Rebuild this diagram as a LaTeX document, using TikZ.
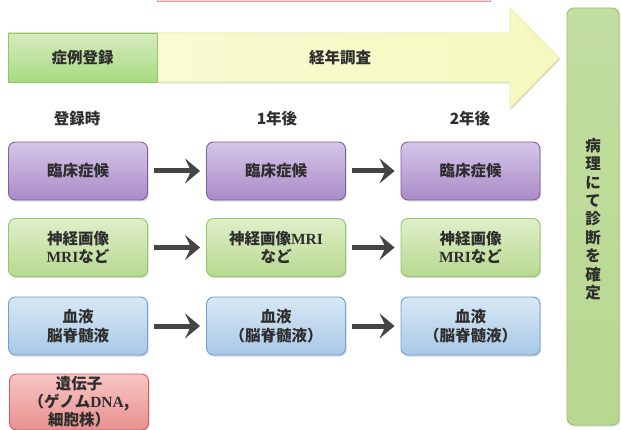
\documentclass[tikz,border=0pt]{standalone}
\usepackage{fontspec}
\setmainfont{Noto Sans CJK JP}
\newfontfamily\serifb{Liberation Serif}
\usetikzlibrary{arrows.meta,shadows}
\newcommand{\mr}[1]{{\serifb\bfseries #1}}
\definecolor{txt}{HTML}{2E2E2E}
\definecolor{ptop}{HTML}{D6C6E8}
\definecolor{pbot}{HTML}{A98BC8}
\definecolor{pdr}{HTML}{7D619E}
\definecolor{gtop}{HTML}{DFEFC9}
\definecolor{gbot}{HTML}{B8D890}
\definecolor{gdr}{HTML}{95C56A}
\definecolor{btop}{HTML}{D8E8F5}
\definecolor{bbot}{HTML}{A8C8E6}
\definecolor{bdr}{HTML}{6FA0CF}
\definecolor{rtop}{HTML}{F7C6C4}
\definecolor{rbot}{HTML}{E8908E}
\definecolor{rdr}{HTML}{D9595A}
\definecolor{yfill}{HTML}{F6F9BE}
\definecolor{ydr}{HTML}{E3EEA6}
\definecolor{arrc}{HTML}{454545}
\tikzset{
  shd/.style={drop shadow={shadow xshift=1.2pt,shadow yshift=-1.5pt,opacity=0.25,fill=black!60}},
  box/.style={rounded corners=7pt, minimum width=139pt, minimum height=58pt, align=center,
    font=\bfseries\fontsize{15.5}{18.5}\selectfont, text=txt, line width=0.9pt, shd},
  pbox/.style={box, draw=pdr, top color=ptop, bottom color=pbot},
  gbox/.style={box, draw=gdr, top color=gtop, bottom color=gbot},
  bbox/.style={box, draw=bdr, top color=btop, bottom color=bbot},
  rbox/.style={box, draw=rdr, top color=rtop, bottom color=rbot},
  hdr/.style={font=\bfseries\fontsize{15.5}{18}\selectfont, text=txt},
  arr/.style={draw=arrc, line width=5pt, -{Stealth[length=15pt 0 0,width=25pt 0 0,inset=6pt 0]},
    shorten <=6pt, shorten >=6pt}
}
\begin{document}
\begin{tikzpicture}[x=1pt,y=-1pt]
\useasboundingbox (0,0) rectangle (621,430);
\fill[white] (0,0) rectangle (621,430);
\begin{scope}
\clip (0,0) rectangle (621,430);
\draw[draw=rdr!60, fill=rtop!70!white, line width=0.8pt] (157,-20) rectangle (490,1.2);
\end{scope}
% top timeline arrow
\draw[draw=ydr, line width=0.9pt, left color=yfill!70!white, right color=yfill, shd]
  (157,33) -- (510,33) -- (510,8) -- (559,58) -- (510,108) -- (510,82) -- (157,82) -- cycle;
\node[hdr] (survey) at (340,58) {経年調査};
\node[draw=gdr, line width=0.9pt, top color=gtop!80!gbot, bottom color=gbot!90!green, shd,
  minimum width=149pt, minimum height=49pt, hdr] (reg) at (82.5,57.5) {症例登録};
% right tall box
\node[draw=gdr, line width=0.9pt, rounded corners=7pt, top color=gbot!85!white, bottom color=gbot,
  shd, minimum width=52pt, minimum height=417pt] (diag) at (593,216.5) {};
\node[font=\bfseries\fontsize{15.5}{18.4}\selectfont, text=txt, align=center] (diagtxt) at (593,219)
  {病\\理\\に\\て\\診\\断\\を\\確\\定};
% headers
\node[hdr] (h1) at (77,119) {登録時};
\node[hdr] (h2) at (277,119) {1年後};
\node[hdr] (h3) at (470,119) {2年後};
% rows
\node[pbox] (p1) at (78,171) {臨床症候};
\node[pbox] (p2) at (276,171) {臨床症候};
\node[pbox] (p3) at (470.5,171) {臨床症候};
\node[gbox] (g1) at (78,247.5) {神経画像\\\mr{MRI}など};
\node[gbox] (g2) at (276,247.5) {神経画像\mr{MRI}\\など};
\node[gbox] (g3) at (470.5,247.5) {神経画像\\\mr{MRI}など};
\node[bbox] (b1) at (78,326) {血液\\脳脊髄液};
\node[bbox] (b2) at (276,326) {血液\\（脳脊髄液）};
\node[bbox] (b3) at (470.5,326) {血液\\（脳脊髄液）};
\node[rbox, minimum height=56pt, inner ysep=1pt, font=\bfseries\fontsize{15.5}{18}\selectfont] (r1) at (79,402)
  {遺伝子\\（ゲノム\mr{DNA},\\細胞株）};
% arrows
\draw[arr] (p1) -- (p2);
\draw[arr] (p2) -- (p3);
\draw[arr] (g1) -- (g2);
\draw[arr] (g2) -- (g3);
\draw[arr] (b1) -- (b2);
\draw[arr] (b2) -- (b3);
\end{tikzpicture}
\end{document}
